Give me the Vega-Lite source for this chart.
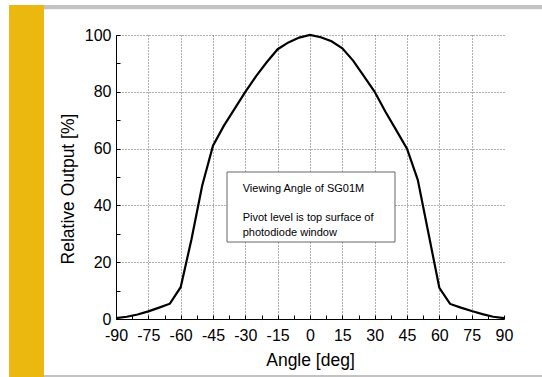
{
  "$schema": "https://vega.github.io/schema/vega-lite/v6.json",
  "width": 388,
  "height": 284,
  "autosize": {"type": "none"},
  "padding": {"left": 116, "top": 35, "right": 38, "bottom": 58},
  "background": "white",
  "config": {
    "view": {"stroke": null},
    "font": "Liberation Sans",
    "axis": {"labelFont": "Liberation Sans", "titleFont": "Liberation Sans", "labelColor": "black", "titleColor": "black", "domainColor": "black", "tickColor": "black", "titleFontWeight": "normal"}
  },
  "datasets": {
    "curve": [
      {"angle": -90, "output": 0.3},
      {"angle": -85, "output": 0.8},
      {"angle": -80, "output": 1.6},
      {"angle": -75, "output": 2.7},
      {"angle": -70, "output": 4.0},
      {"angle": -65, "output": 5.4},
      {"angle": -60, "output": 11.2},
      {"angle": -55, "output": 28},
      {"angle": -50, "output": 47},
      {"angle": -45, "output": 61},
      {"angle": -40, "output": 68},
      {"angle": -35, "output": 74},
      {"angle": -30, "output": 80},
      {"angle": -25, "output": 85.5},
      {"angle": -20, "output": 90.5},
      {"angle": -15, "output": 95},
      {"angle": -10, "output": 97.4},
      {"angle": -5, "output": 99.1},
      {"angle": 0, "output": 100},
      {"angle": 5, "output": 99.2},
      {"angle": 10, "output": 97.8},
      {"angle": 15, "output": 95.3},
      {"angle": 20, "output": 91},
      {"angle": 25, "output": 85.5},
      {"angle": 30, "output": 80},
      {"angle": 35, "output": 73},
      {"angle": 40, "output": 66.5},
      {"angle": 45, "output": 60},
      {"angle": 50, "output": 49},
      {"angle": 55, "output": 30},
      {"angle": 60, "output": 11},
      {"angle": 65, "output": 5.3},
      {"angle": 70, "output": 4.0},
      {"angle": 75, "output": 2.8},
      {"angle": 80, "output": 1.7},
      {"angle": 85, "output": 0.8},
      {"angle": 90, "output": 0.3}
    ],
    "one": [{}]
  },
  "resolve": {"axis": {"x": "independent", "y": "independent"}},
  "layer": [
    {
      "data": {"name": "one"},
      "mark": {"type": "rect", "color": "#EBB810", "clip": false},
      "encoding": {
        "x": {"datum": -139.64, "type": "quantitative", "scale": {"domain": [-90, 90], "nice": false, "zero": false}, "axis": null},
        "x2": {"datum": -123.4},
        "y": {"datum": 110.56, "type": "quantitative", "scale": {"domain": [0, 100], "nice": false, "zero": false}, "axis": null},
        "y2": {"datum": -20.42}
      }
    },
    {
      "data": {"name": "one"},
      "mark": {"type": "rect", "color": "#C3C3C3", "clip": false},
      "encoding": {
        "x": {"datum": -123.4, "type": "quantitative", "axis": null},
        "x2": {"datum": 107.63},
        "y": {"datum": 110.56, "type": "quantitative", "axis": null},
        "y2": {"datum": 109.05}
      }
    },
    {
      "data": {"name": "one"},
      "mark": {"type": "rect", "color": "#C3C3C3", "clip": false},
      "encoding": {
        "x": {"datum": -123.4, "type": "quantitative", "axis": null},
        "x2": {"datum": 107.63},
        "y": {"datum": -19.72, "type": "quantitative", "axis": null},
        "y2": {"datum": -20.42}
      }
    },
    {
      "data": {"name": "curve"},
      "mark": {"type": "point", "opacity": 0},
      "encoding": {
        "x": {"field": "angle", "type": "quantitative", "axis": {"orient": "bottom", "values": [-75, -60, -45, -30, -15, 0, 15, 30, 45, 60, 75], "grid": true, "gridColor": "#606060", "gridDash": [1, 2], "gridWidth": 1, "ticks": false, "labels": false, "domain": false, "title": null}},
        "y": {"field": "output", "type": "quantitative", "axis": {"orient": "left", "values": [20, 40, 60, 80, 100], "grid": true, "gridColor": "#606060", "gridDash": [1, 2], "gridWidth": 1, "ticks": false, "labels": false, "domain": false, "title": null}}
      }
    },
    {
      "data": {"name": "curve"},
      "mark": {"type": "line", "color": "black", "strokeWidth": 2.2},
      "encoding": {
        "x": {"field": "angle", "type": "quantitative", "axis": {"orient": "bottom", "values": [-90, -75, -60, -45, -30, -15, 0, 15, 30, 45, 60, 75, 90], "grid": false, "tickSize": -4, "labelFontSize": 16, "labelPadding": 12, "labelFlush": false, "labelOverlap": false, "labelExpr": "replace(datum.label, '−', '-')", "title": "Angle [deg]", "titleLimit": 1000, "titleFontSize": 17.5, "titleY": 46, "titleBaseline": "alphabetic"}},
        "y": {"field": "output", "type": "quantitative", "axis": {"orient": "left", "values": [0, 20, 40, 60, 80, 100], "grid": false, "tickSize": -4, "labelFontSize": 16, "labelPadding": 9, "labelFlush": false, "labelOverlap": false, "title": "Relative Output [%]", "titleLimit": 1000, "titleFontSize": 17.5, "titleX": -43, "titleY": 153.5, "titleAngle": 270, "titleAlign": "center", "titleBaseline": "alphabetic"}}
      }
    },
    {
      "data": {"name": "curve"},
      "mark": {"type": "point", "opacity": 0},
      "encoding": {
        "x": {"field": "angle", "type": "quantitative", "axis": {"orient": "bottom", "values": [-82.5, -67.5, -52.5, -37.5, -22.5, -7.5, 7.5, 22.5, 37.5, 52.5, 67.5, 82.5], "grid": false, "tickSize": -4, "labels": false, "domain": false, "title": null}},
        "y": {"field": "output", "type": "quantitative", "axis": {"orient": "left", "values": [10, 30, 50, 70, 90], "grid": false, "tickSize": -4, "labels": false, "domain": false, "title": null}}
      }
    },
    {
      "data": {"name": "one"},
      "mark": {"type": "rect", "fill": "white", "stroke": "#666666", "strokeWidth": 1},
      "encoding": {
        "x": {"datum": -38.5, "type": "quantitative", "axis": null},
        "x2": {"datum": 39.43},
        "y": {"datum": 51.76, "type": "quantitative", "axis": null},
        "y2": {"datum": 27.11}
      }
    },
    {
      "data": {"name": "one"},
      "mark": {"type": "text", "align": "left", "baseline": "alphabetic", "fontSize": 11, "font": "Liberation Sans", "color": "black"},
      "encoding": {
        "x": {"datum": -31.22, "type": "quantitative", "axis": null},
        "y": {"datum": 44.72, "type": "quantitative", "axis": null},
        "text": {"value": "Viewing Angle of SG01M"}
      }
    },
    {
      "data": {"name": "one"},
      "mark": {"type": "text", "align": "left", "baseline": "alphabetic", "fontSize": 11, "font": "Liberation Sans", "color": "black", "lineHeight": 15},
      "encoding": {
        "x": {"datum": -31.22, "type": "quantitative", "axis": null},
        "y": {"datum": 34.5, "type": "quantitative", "axis": null},
        "text": {"value": ["Pivot level is top surface of", "photodiode window"]}
      }
    }
  ]
}
